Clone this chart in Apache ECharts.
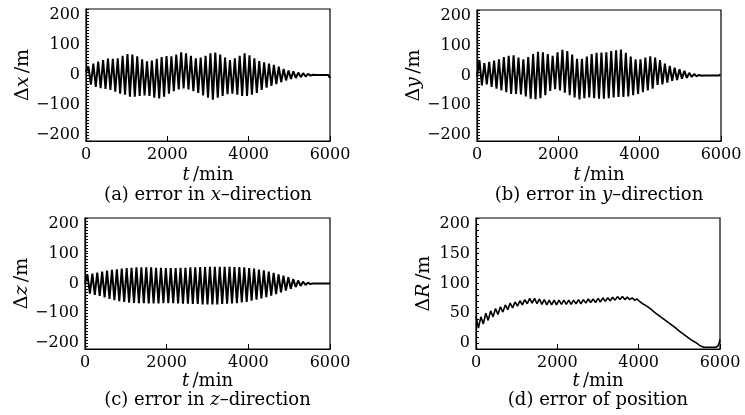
<!DOCTYPE html>
<html>
<head>
<meta charset="utf-8">
<script src="https://cdn.jsdelivr.net/npm/echarts@6/dist/echarts.min.js"></script>
<style>
  html, body { margin: 0; padding: 0; background: #fff; }
  #chart { width: 745px; height: 415px; }
</style>
</head>
<body>
<div id="chart"></div>
<script>
// Sample times (min) for the oscillating error components, one sample per half-swing
const tOsc = [
  0, 60, 120, 180, 240, 300, 360, 420, 480, 540, 600, 660, 720, 780, 840, 900,
  960, 1020, 1080, 1140, 1200, 1260, 1320, 1380, 1440, 1500, 1560, 1620, 1680, 1740, 1800, 1860,
  1920, 1980, 2040, 2100, 2160, 2220, 2280, 2340, 2400, 2460, 2520, 2580, 2640, 2700, 2760, 2820,
  2880, 2940, 3000, 3060, 3120, 3180, 3240, 3300, 3360, 3420, 3480, 3540, 3600, 3660, 3720, 3780,
  3840, 3900, 3960, 4020, 4080, 4140, 4200, 4260, 4320, 4380, 4440, 4500, 4560, 4620, 4680, 4740,
  4800, 4860, 4920, 4980, 5040, 5100, 5160, 5220, 5280, 5340, 5400, 5460, 5520
];

// Δx (m)
const dxOsc = [
  10, 28, -32, 38, -40, 45, -44, 50, -46, 55, -50, 54, -56, 56, -62, 64,
  -66, 70, -72, 68, -72, 62, -70, 52, -68, 46, -70, 48, -76, 54, -78, 60,
  -72, 63, -62, 62, -54, 68, -48, 76, -45, 72, -48, 64, -54, 56, -60, 58,
  -68, 64, -76, 72, -82, 75, -76, 68, -70, 58, -64, 50, -62, 56, -66, 64,
  -70, 72, -70, 66, -66, 56, -60, 46, -50, 42, -42, 38, -36, 34, -30, 28,
  -24, 20, -18, 15, -13, 12, -10, 8, -7, 6, -5, 4, -2
];
const tTailX = [5580, 5640, 5960, 5980, 6000];
const dxTail = [1, 0, 0, 2, -10];

// Δy (m)
const dyOsc = [
  -5, 52, -33, 42, -30, 46, -38, 50, -44, 54, -50, 62, -56, 66, -62, 68,
  -62, 60, -64, 54, -70, 62, -78, 72, -80, 80, -76, 78, -66, 72, -52, 66,
  -46, 78, -50, 86, -58, 82, -66, 70, -74, 56, -80, 56, -76, 64, -74, 72,
  -76, 76, -78, 77, -78, 78, -76, 82, -74, 85, -72, 87, -72, 76, -70, 64,
  -66, 54, -62, 54, -56, 60, -50, 64, -44, 60, -32, 52, -30, 40, -24, 32,
  -18, 26, -15, 21, -11, 16, -8, 9, -5, 5, -3, 2, -1
];
const tTailY = [5580, 5960, 5975, 5990, 6000];
const dyTail = [0, 0, 5, 3, 2];

// Δz (m)
const dzOsc = [
  0, 30, -34, 33, -38, 37, -42, 40, -47, 43, -52, 46, -56, 48, -59, 50,
  -62, 52, -64, 53, -65, 54, -66, 54, -66, 54, -67, 54, -67, 53, -67, 53,
  -66, 52, -66, 52, -66, 52, -67, 53, -68, 53, -68, 54, -69, 54, -69, 55,
  -70, 55, -70, 56, -70, 56, -70, 56, -69, 56, -68, 56, -67, 55, -66, 55,
  -64, 54, -62, 52, -58, 50, -54, 47, -50, 44, -46, 40, -41, 36, -36, 31,
  -30, 26, -24, 21, -18, 15, -12, 10, -8, 6, -5, 3, -2
];
const tTailZ = [5580, 5760, 5780, 5800, 5900, 5920, 5940, 6000];
const dzTail = [0, 0, -4, 0, 0, 3, 0, 0];

// ΔR (m)
const tR = [
  0, 60, 120, 180, 240, 300, 360, 420, 480, 540, 600, 660, 720, 780, 840, 900,
  960, 1020, 1080, 1140, 1200, 1260, 1320, 1380, 1440, 1500, 1560, 1620, 1680, 1740, 1800, 1860,
  1920, 1980, 2040, 2100, 2160, 2220, 2280, 2340, 2400, 2460, 2520, 2580, 2640, 2700, 2760, 2820,
  2880, 2940, 3000, 3060, 3120, 3180, 3240, 3300, 3360, 3420, 3480, 3540, 3600, 3660, 3720, 3780,
  3840, 3900, 3960, 4020, 4100, 4200, 4300, 4400, 4500, 4600, 4700, 4800, 4900, 5000, 5100, 5200,
  5300, 5400, 5500, 5600, 5700, 5800, 5900, 5950, 5980, 6000
];
const dR = [
  45, 25, 44, 32, 50, 38, 54, 44, 58, 48, 61, 52, 64, 56, 67, 59,
  69, 62, 71, 64, 73, 66, 75, 67, 75, 66, 74, 65, 73, 64, 72, 64,
  72, 64, 72, 65, 72, 65, 72, 65, 72, 66, 73, 66, 73, 67, 74, 68,
  74, 68, 75, 69, 76, 70, 76, 71, 77, 72, 78, 73, 78, 73, 77, 73,
  76, 72, 74, 70, 66, 62, 57, 51, 46, 41, 36, 31, 26, 20, 15, 10,
  5, 1, -4, -7, -7, -7, -7, -5, 0, 6
];

// Axis tick labels
const xTicks = [0, 2000, 4000, 6000];
const yTicksXYZ = [-200, -100, 0, 100, 200];
const yTicksR = [0, 50, 100, 150, 200];

function pairs(ts, vs) {
  return ts.map((t, i) => [t, vs[i]]);
}

const FONT = 'DejaVu Serif';
const INK = '#000';
const panels = [
  { left: 86, top: 9, width: 244, height: 132, sym: 'x', tag: 'a', cap: 'in', ymin: -220, ymax: 220, ticks: yTicksXYZ,
    nameGapY: 47, nameGapX: 25, capGap: 54, data: pairs(tOsc, dxOsc).concat(pairs(tTailX, dxTail)) },
  { left: 477, top: 10, width: 244, height: 131, sym: 'y', tag: 'b', cap: 'in', ymin: -220, ymax: 220, ticks: yTicksXYZ,
    nameGapY: 46, nameGapX: 25, capGap: 54, data: pairs(tOsc, dyOsc).concat(pairs(tTailY, dyTail)) },
  { left: 85, top: 218, width: 245, height: 131, sym: 'z', tag: 'c', cap: 'in', ymin: -220, ymax: 220, ticks: yTicksXYZ,
    nameGapY: 46, nameGapX: 23, capGap: 51, data: pairs(tOsc, dzOsc).concat(pairs(tTailZ, dzTail)) },
  { left: 476, top: 218, width: 244, height: 131, sym: 'R', tag: 'd', cap: 'pos', ymin: -10, ymax: 210, ticks: yTicksR,
    nameGapY: 42, nameGapX: 23, capGap: 51, data: pairs(tR, dR) }
];

const richName = {
  n: { fontFamily: FONT, fontSize: 19, color: INK },
  i: { fontFamily: FONT, fontSize: 19, fontStyle: 'italic', color: INK }
};
const richCap = {
  n: { fontFamily: FONT, fontSize: 18, color: INK },
  i: { fontFamily: FONT, fontSize: 18, fontStyle: 'italic', color: INK }
};

const grid = [], xAxis = [], yAxis = [], series = [], graphic = [];
panels.forEach((p, k) => {
  grid.push({ left: p.left, top: p.top, width: p.width, height: p.height,
    show: true, borderColor: INK, borderWidth: 1.2, backgroundColor: 'transparent' });
  xAxis.push({
    type: 'value', gridIndex: k, min: 0, max: 6000, interval: 2000, position: 'bottom',
    axisLine: { show: true, onZero: false, lineStyle: { color: INK, width: 1.2 } },
    axisTick: { show: true, inside: true, length: 5, lineStyle: { color: INK } },
    splitLine: { show: false },
    axisLabel: { customValues: xTicks, margin: 6, fontFamily: FONT, fontSize: 16, color: INK,
      formatter: v => String(v) },
    name: '{i|t} {n|/min}', nameLocation: 'middle', nameGap: p.nameGapX,
    nameTextStyle: { rich: richCap }
  });
  // fine ticks every 10 m; labels only at the major values
  yAxis.push({
    type: 'value', gridIndex: k, min: p.ymin, max: p.ymax, interval: 10, position: 'left',
    axisLine: { show: true, onZero: false, lineStyle: { color: INK, width: 1.2 } },
    axisTick: { show: true, inside: true, length: 3, lineStyle: { color: INK } },
    axisLabel: { customValues: p.ticks, margin: 6, fontFamily: FONT, fontSize: 16, color: INK,
      formatter: v => String(v).replace('-', '\u2212') },
    splitLine: { show: false },
    name: '{n|\u0394}{i|' + p.sym + '} {n|/m}', nameLocation: 'middle', nameGap: p.nameGapY,
    nameRotate: 90, nameTextStyle: { rich: richName }
  });
  series.push({
    type: 'line', xAxisIndex: k, yAxisIndex: k, data: p.data,
    showSymbol: false, symbol: 'none', animation: false,
    lineStyle: { color: INK, width: k === 3 ? 1.6 : 2 }
  });
  const capText = p.cap === 'in'
    ? '{n|(' + p.tag + ') error in }{i|' + p.sym + '}{n|\u2013direction}'
    : '{n|(' + p.tag + ') error of position}';
  graphic.push({
    type: 'text', x: p.left + p.width / 2, y: p.top + p.height + p.capGap,
    style: { text: capText, rich: richCap, textAlign: 'center', textVerticalAlign: 'middle' }
  });
});

const chart = echarts.init(document.getElementById('chart'), null, { renderer: 'canvas' });
chart.setOption({
  animation: false,
  backgroundColor: '#fff',
  grid, xAxis, yAxis, series, graphic
});
</script>
</body>
</html>
